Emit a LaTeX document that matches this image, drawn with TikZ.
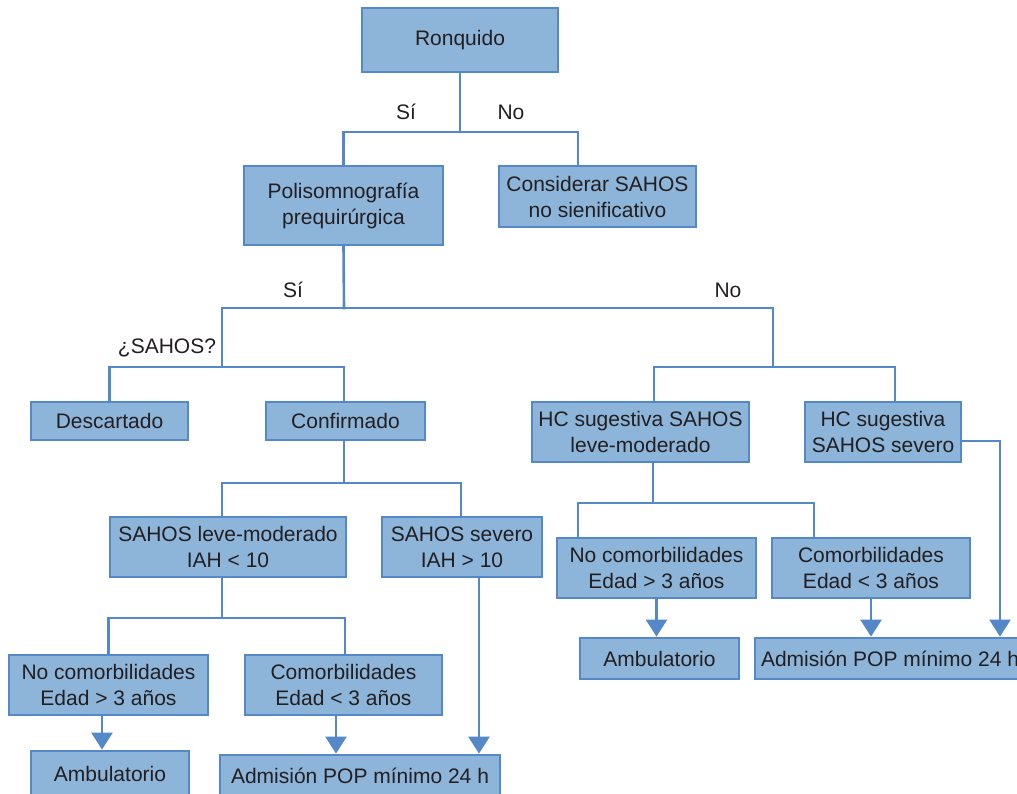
\documentclass[tikz,border=0pt]{standalone}
\usepackage{fontspec}
\setmainfont{Liberation Sans}
\usetikzlibrary{arrows.meta}
\definecolor{boxfill}{RGB}{141,180,217}
\definecolor{boxline}{RGB}{84,136,200}
\definecolor{txt}{RGB}{35,31,32}
\tikzset{
  box/.style={draw=boxline, fill=boxfill, line width=2.8pt, inner sep=0pt, align=center,
    text=txt, font=\fontsize{21}{26}\selectfont},
  lab/.style={text=txt, font=\fontsize{21}{26}\selectfont, inner sep=0pt},
  conn/.style={draw=boxline, line width=2.6pt, line cap=rect},
  arr/.style={draw=boxline, line width=2.6pt, -{Triangle[width=21pt,length=17pt]}}
}
\begin{document}
\begin{tikzpicture}[x=1pt,y=-1pt]
\useasboundingbox (0,0) rectangle (1017,794);
\fill[white] (0,0) rectangle (1017,794);
\clip (0,0) rectangle (1017,794);
% boxes
\node[box, minimum width=196pt, minimum height=64pt] (r) at (460,40) {\raisebox{-3pt}{Ronquido}};
\node[box, minimum width=199pt, minimum height=79pt] (poli) at (343.5,205.5) {Polisomnografía\\prequirúrgica};
\node[box, minimum width=197pt, minimum height=61pt] (cons) at (597.5,196.5) {Considerar SAHOS\\no sienificativo};
\node[box, minimum width=157pt, minimum height=38pt] (desc) at (109.5,421) {Descartado};
\node[box, minimum width=159pt, minimum height=38pt] (conf) at (345.5,421) {Confirmado};
\node[box, minimum width=217pt, minimum height=60pt] (hc1) at (640.5,432) {HC sugestiva SAHOS\\leve-moderado};
\node[box, minimum width=156pt, minimum height=60pt] (hc2) at (883,432) {HC sugestiva\\SAHOS severo};
\node[box, minimum width=236pt, minimum height=60pt] (lm) at (228,547) {SAHOS leve-moderado\\IAH < 10};
\node[box, minimum width=160pt, minimum height=60pt] (sev) at (462,547) {SAHOS severo\\IAH > 10};
\node[box, minimum width=199pt, minimum height=60pt] (nc1) at (108.5,685) {No comorbilidades\\Edad > 3 años};
\node[box, minimum width=197pt, minimum height=60pt] (c1) at (343.5,685) {Comorbilidades\\Edad < 3 años};
\node[box, minimum width=158pt, minimum height=46pt] (amb1) at (110,774) {Ambulatorio};
\node[box, minimum width=280pt, minimum height=42pt] (adm1) at (360,776) {Admisión POP mínimo 24 h};
\node[box, minimum width=199pt, minimum height=60pt] (nc2) at (656.5,568) {No comorbilidades\\Edad > 3 años};
\node[box, minimum width=198pt, minimum height=60pt] (c2) at (871,568) {Comorbilidades\\Edad < 3 años};
\node[box, minimum width=159pt, minimum height=41pt] (amb2) at (659.5,658.5) {Ambulatorio};
\node[box, minimum width=270pt, minimum height=41pt] (adm2) at (890,658.5) {Admisión POP mínimo 24 h};
% labels
\node[lab] (si1) at (406,112) {Sí};
\node[lab] (no1) at (511,112) {No};
\node[lab] (si2) at (293,290) {Sí};
\node[lab] (no2) at (728,290) {No};
\node[lab] (q) at (167,348) {¿SAHOS?};
% junction coordinates
\coordinate (j1) at (460,132);
\coordinate (j2) at (344,308);
\coordinate (j2l) at (222,308);
\coordinate (j2r) at (773,308);
\coordinate (j3l) at (222,367);
\coordinate (j3r) at (773,367);
\coordinate (j4) at (344,483);
\coordinate (j5) at (222,618);
\coordinate (j6) at (653,503);
\coordinate (xr) at (1000,0);
\coordinate (a1) at ([xshift=-6.5pt]nc1.south);
\coordinate (a2) at ([xshift=-7.5pt]c1.south);
\coordinate (a3) at ([xshift=17pt]sev.south);
% connectors
\draw[conn] (r.south) -- (j1);
\draw[conn] (j1) -| (poli.north);
\draw[conn] (j1) -| ([xshift=-19.5pt]cons.north);
\draw[conn] (poli.south) -- (j2);
\draw[conn] (j2l) -- (j2r);
\draw[conn] (j2l) -- (j3l);
\draw[conn] (j2r) -- (j3r);
\draw[conn] (j3l) -| (desc.north);
\draw[conn] (j3l) -| (conf.north -| j2);
\draw[conn] (j3r) -| ([xshift=13.5pt]hc1.north);
\draw[conn] (j3r) -| ([xshift=12pt]hc2.north);
\draw[conn] (conf.south -| j2) -- (j4);
\draw[conn] (j4) -| ([xshift=-6pt]lm.north);
\draw[conn] (j4) -| ([xshift=-1pt]sev.north);
\draw[conn] (lm.south -| j5) -- (j5);
\draw[conn] (j5) -| (nc1.north);
\draw[conn] (j5) -| ([xshift=1.5pt]c1.north);
\draw[conn] (hc1.south -| j6) -- (j6);
\draw[conn] (j6) -| ([xshift=-78.5pt]nc2.north);
\draw[conn] (j6) -| ([xshift=-57pt]c2.north);
% arrows
\draw[arr] (a1) -- (amb1.north -| a1);
\draw[arr] (a2) -- (adm1.north -| a2);
\draw[arr] (a3) -- (adm1.north -| a3);
\draw[arr] (nc2.south) -- (amb2.north -| nc2.south);
\draw[arr] (c2.south) -- (adm2.north -| c2.south);
\draw[arr] ([yshift=-9pt]hc2.east) -| (adm2.north -| xr);
\end{tikzpicture}
\end{document}
